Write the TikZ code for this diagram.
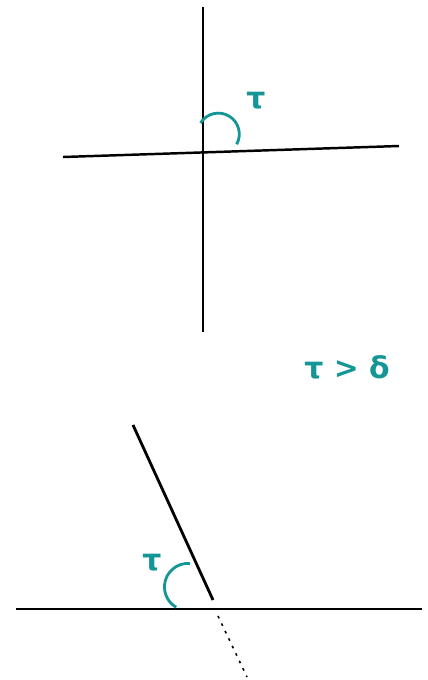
\documentclass[tikz,border=0pt]{standalone}
\usepackage{fontspec}
\usepackage{tikz}
\newfontfamily\greekfont{DejaVu Sans}
\definecolor{AngTeal}{RGB}{20,150,150}

\begin{document}
\begin{tikzpicture}[x=0.02cm, y=-0.02cm,
          ray/.style={draw=black, line width=1.1pt},
          ang/.style={draw=AngTeal, line width=1.6pt},
          lbl/.style={font=\fontsize{17}{20}\selectfont\greekfont\bfseries, text=AngTeal}
        ]
        \useasboundingbox (0,0) rectangle (427,680);

        % Upper figure: axes
        \coordinate (vtop) at (203,7);
        \coordinate (vbot) at (203,332);
        \coordinate (hleft) at (63,157);
        \coordinate (hright) at (399,146);
        \draw[ray] (vtop) -- (vbot);
        \draw[ray, line width=1.4pt] (hleft) -- (hright);

        % Upper angle
        \coordinate (arcA) at (200.5,123);
        \draw[ang] (arcA) arc[start angle=148, end angle=-29, radius=0.42cm];
        \node[lbl] (tauA) at (256,101) {τ};

        % Condition
        \node[lbl] (cond) at (347,367) {τ > δ};

        % Lower figure
        \coordinate (gleft) at (16,609);
        \coordinate (gright) at (422,609);
        \coordinate (stop) at (133,425);
        \coordinate (sbot) at (213,600);
        \coordinate (dtop) at (218,616);
        \coordinate (dbot) at (247,677);
        \draw[ray] (gleft) -- (gright);
        \draw[ray, line width=1.6pt] (stop) -- (sbot);
        \draw[black, line width=0.9pt, dash pattern=on 1.5pt off 3.2pt] (dtop) -- (dbot);

        % Lower angle
        \coordinate (arcB) at (190,563.5);
        \draw[ang] (arcB) arc[start angle=85, end angle=240, radius=0.47cm];
        \node[lbl] (tauB) at (152,563) {τ};
      \end{tikzpicture}
\end{document}
